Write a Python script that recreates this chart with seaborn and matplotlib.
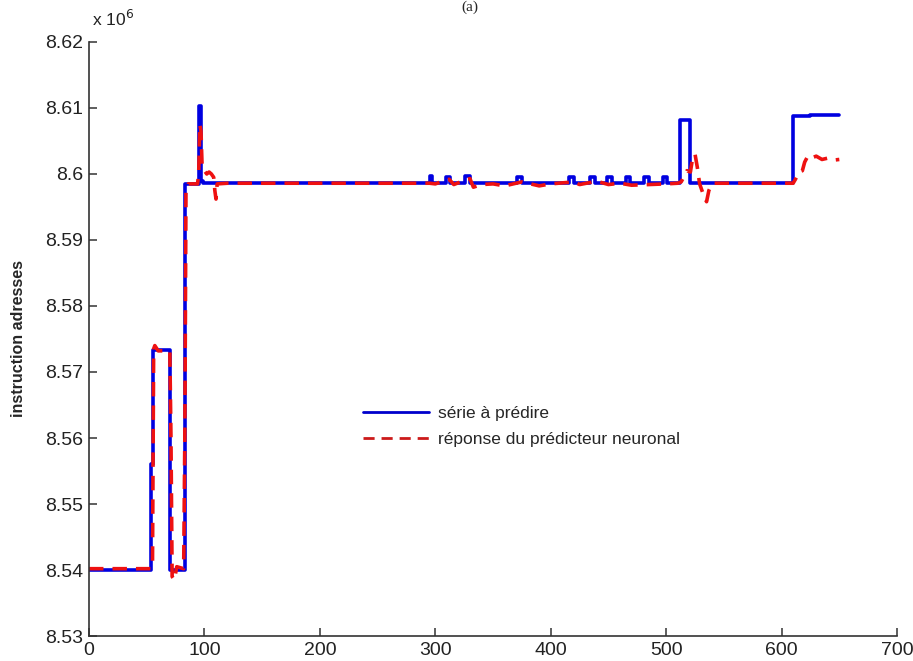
import matplotlib
matplotlib.use("Agg")
import matplotlib.pyplot as plt
import seaborn as sns
import pandas as pd
from matplotlib.ticker import FuncFormatter

# Target address series (units of 1e6), as step vertices
serie_x = [0, 54, 54, 55.5, 55.5, 70.5, 70.5, 83, 83, 95.5, 95.5, 97, 97, 99, 99, 295,
           295, 297, 297, 309, 309, 313, 313, 326, 326, 330, 330, 371, 371, 375, 375,
           416, 416, 420, 420, 434, 434, 438, 438, 449, 449, 453, 453, 465, 465, 469,
           469, 481, 481, 485, 485, 497, 497, 501, 501, 512, 512, 521, 521, 610, 610,
           625, 625, 650]
serie_y = [8.5400, 8.5400, 8.5560, 8.5560, 8.5733, 8.5733, 8.5400, 8.5400, 8.5985, 8.5985,
           8.6103, 8.6103, 8.5990, 8.5990, 8.5986, 8.5986,
           8.5997, 8.5997, 8.5986, 8.5986, 8.5996, 8.5996, 8.5986, 8.5986, 8.5997, 8.5997,
           8.5986, 8.5986, 8.5996, 8.5996, 8.5986, 8.5986, 8.5996, 8.5996, 8.5986, 8.5986,
           8.5996, 8.5996, 8.5986, 8.5986, 8.5996, 8.5996, 8.5986, 8.5986, 8.5996, 8.5996,
           8.5986, 8.5986, 8.5996, 8.5996, 8.5986, 8.5986, 8.5996, 8.5996, 8.5986, 8.5986,
           8.6082, 8.6082, 8.5987, 8.5987, 8.6088, 8.6088, 8.6090, 8.6090]

# Neural predictor response (units of 1e6)
pred_x = [0, 54, 55, 56, 57, 60, 70, 71, 72, 74, 76, 82, 83, 84, 86, 94, 95, 96, 97, 98,
          100, 102, 104, 106, 108, 109, 110, 111, 120, 295, 300, 305, 312, 316, 322, 330,
          333, 340, 350, 360, 375, 380, 390, 400, 420, 425, 440, 450, 460, 470, 485, 500,
          510, 513, 516, 518, 521, 523, 525, 527, 529, 532, 535, 537, 540, 610, 612, 615,
          618, 620, 623, 627, 630, 635, 640, 645, 650]
pred_y = [8.5402, 8.5402, 8.5410, 8.5735, 8.5740, 8.5732, 8.5732, 8.5600, 8.5390, 8.5385,
          8.5405, 8.5402, 8.5600, 8.5975, 8.5985, 8.5985, 8.6000, 8.6075, 8.6065, 8.6010,
          8.6005, 8.6000, 8.6003, 8.6000, 8.5995, 8.5975, 8.5962, 8.5985, 8.5986, 8.5986,
          8.5985, 8.5988, 8.5992, 8.5984, 8.5988, 8.5993, 8.5980, 8.5984, 8.5985, 8.5982,
          8.5988, 8.5986, 8.5982, 8.5985, 8.5988, 8.5984, 8.5989, 8.5984, 8.5986, 8.5983,
          8.5984, 8.5985, 8.5986, 8.5988, 8.5998, 8.6005, 8.6003, 8.6025, 8.6030, 8.6010,
          8.5985, 8.5970, 8.5958, 8.5975, 8.5986, 8.5986, 8.5992, 8.6003, 8.6005, 8.6018,
          8.6028, 8.6025, 8.6027, 8.6022, 8.6024, 8.6021, 8.6022]

x_ticks = [0, 100, 200, 300, 400, 500, 600, 700]
y_ticks = [8.53, 8.54, 8.55, 8.56, 8.57, 8.58, 8.59, 8.60, 8.61, 8.62]

sns.set_style("white")
plt.rcParams["font.family"] = ["Liberation Sans", "DejaVu Sans"]

fig = plt.figure(figsize=(9.13, 6.61), dpi=100)
ax = fig.add_axes([0.0975, 0.0378, 0.885, 0.8987])

df_serie = pd.DataFrame({"x": serie_x, "y": serie_y})
df_pred = pd.DataFrame({"x": pred_x, "y": pred_y})

sns.lineplot(data=df_serie, x="x", y="y", ax=ax, color="#0000e0", lw=2.6,
             estimator=None, sort=False, label="série à prédire")
sns.lineplot(data=df_pred, x="x", y="y", ax=ax, color="#ee1111", lw=2.6,
             estimator=None, sort=False, linestyle=(0, (4, 2.5)),
             label="réponse du prédicteur neuronal")

ax.set_xlim(0, 700)
ax.set_ylim(8.53, 8.62)
ax.set_xticks(x_ticks)
ax.set_yticks(y_ticks)
ax.yaxis.set_major_formatter(FuncFormatter(lambda v, p: f"{v:g}"))
ax.set_xlabel("")
ax.set_ylabel("instruction adresses", fontsize=11.5, fontweight="bold", labelpad=14)

for side in ("top", "right"):
    ax.spines[side].set_visible(False)
for side in ("left", "bottom"):
    ax.spines[side].set_color("#333333")
    ax.spines[side].set_linewidth(1.2)
ax.tick_params(axis="both", direction="in", length=6, width=1.1, color="#333333",
               labelsize=14, labelcolor="#222222", left=True, bottom=True, pad=4)

ax.text(0.004, 1.022, r"x 10$^{6}$", transform=ax.transAxes, fontsize=12.5,
        color="#222222", ha="left", va="bottom")
fig.text(0.515, 0.999, "(a)", fontsize=11, ha="center", va="top",
         family="Liberation Serif")

leg = ax.legend(loc="upper left", bbox_to_anchor=(0.32, 0.413), frameon=False,
                fontsize=12.5, handlelength=3.8, handletextpad=0.5, labelspacing=0.6)
leg_colors = ["#0000cc", "#cc1a1a"]
for h, c in zip(leg.get_lines(), leg_colors):
    h.set_linewidth(2.0)
    h.set_color(c)

fig.savefig("out.png", dpi=100)
